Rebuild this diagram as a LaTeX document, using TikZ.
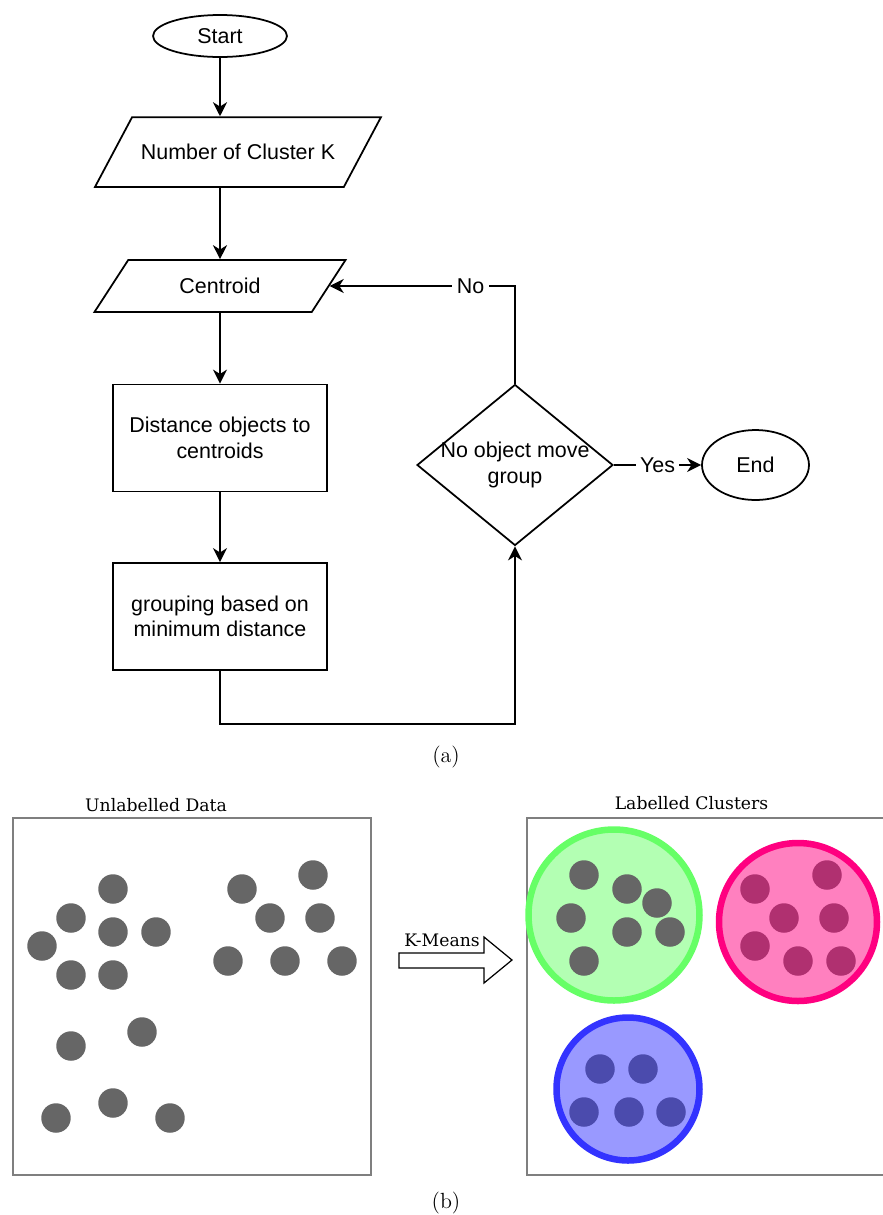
\documentclass[tikz,border=0pt]{standalone}
\usepackage{fontspec}
\usetikzlibrary{shapes.geometric,arrows.meta}
\newfontfamily\flowfont{Liberation Sans}
\newfontfamily\plotfont{DejaVu Serif}
\definecolor{dotgray}{HTML}{666666}
\definecolor{panelline}{HTML}{7F7F7F}
\definecolor{grfill}{HTML}{B3FFB3}
\definecolor{grline}{HTML}{66FF66}
\definecolor{pkfill}{HTML}{FF80BF}
\definecolor{pkline}{HTML}{FF0080}
\definecolor{pkdot}{HTML}{B03070}
\definecolor{blfill}{HTML}{9999FF}
\definecolor{blline}{HTML}{3333FF}
\definecolor{bldot}{HTML}{4B4BAD}
\tikzset{
  flow/.style={draw, line width=1pt, font=\flowfont\fontsize{12.2}{14.5}\selectfont,
               align=center, inner sep=0pt},
  terminal/.style={flow, ellipse},
  inout/.style={draw, line width=1pt, font=\flowfont\fontsize{12.2}{14.5}\selectfont,
                trapezium, trapezium stretches body=true, inner xsep=0pt,
                text height=10pt, text depth=2pt},
  process/.style={flow, rectangle, minimum width=4.28cm, minimum height=2.14cm},
  decision/.style={flow, diamond, minimum width=3.92cm, minimum height=3.22cm},
  link/.style={line width=1pt, -{Stealth[length=8pt, width=8pt, inset=2.5pt]}},
  edgelabel/.style={fill=white, font=\flowfont\fontsize{12.2}{14.5}\selectfont, inner sep=2.5pt},
  caption/.style={font=\fontsize{12.5}{15}\selectfont},
  paneltitle/.style={font=\plotfont\fontsize{9.8}{12}\selectfont, inner sep=0pt},
  panel/.style={draw=panelline, line width=0.7pt},
  dot/.style={circle, inner sep=0pt, minimum size=0.59cm},
  cluster/.style={line width=3.7pt},
}

\begin{document}
\begin{tikzpicture}[x=0.02cm, y=-0.02cm]
    \useasboundingbox (0,0) rectangle (883,1215);

    % (a) flowchart
    \node[terminal, minimum width=2.68cm, minimum height=0.84cm] (start) at (220,36) {Start};
    \node[inout, minimum width=5.72cm, inner ysep=13.85pt,
          trapezium left angle=62, trapezium right angle=118] (num) at (238,152) {Number of Cluster K};
    \node[inout, minimum width=5.02cm, inner ysep=8.75pt,
          trapezium left angle=57, trapezium right angle=123] (cen) at (220,286) {Centroid};
    \node[process] (dist) at (220,438) {Distance objects to\\centroids};
    \node[process] (grp) at (220,616.5) {grouping based on\\minimum distance};
    \node[decision, label={[flow, draw=none]center:No object move\\group}] (dec) at (515,465) {};
    \node[terminal, minimum width=2.14cm, minimum height=1.4cm] (fin) at (755.5,465) {End};

    \draw[link] (start.south) -- (start.south |- num.north);
    \draw[link] (start.south |- num.south) -- (cen.north);
    \draw[link] (cen) -- (dist);
    \draw[link] (dist) -- (grp);
    \draw[link] (grp.south) -- ++(0,53) -| (dec.south);
    \draw[link] (dec.north) |- (cen.east) node[edgelabel, pos=0.62] {No};
    \draw[link] (dec.east) -- (fin.west) node[edgelabel, midway] {Yes};

    \node[caption] (capa) at (446,757) {(a)};

    % (b) clustering
    \node[paneltitle] (rawtitle) at (156,805) {Unlabelled Data};
    \draw[panel] (13,818) rectangle (371,1175);
    \foreach \px/\py in {113/889, 71/918, 113/932, 156/932, 42/946, 71/975, 113/975,
                         242/889, 313/875, 270/918, 320/918, 228/961, 285/961, 342/961,
                         142/1032, 71/1046, 113/1103, 56/1118, 170/1118}
      \node[dot, fill=dotgray] at (\px,\py) {};

    \draw[line width=0.7pt, fill=white] (399,953) -- (484,953) -- (484,937) -- (512,960)
      -- (484,983) -- (484,968) -- (399,968) -- cycle;
    \node[paneltitle] (kmeans) at (442,940) {K-Means};

    \node[paneltitle] (clutitle) at (691.5,803) {Labelled Clusters};
    \draw[panel] (527,818) rectangle (900,1175);

    \draw[cluster, draw=grline, fill=grfill] (614,915) circle (85.5);
    \foreach \px/\py in {584/875, 627/889, 657/903, 571/918, 627/932, 670/932, 584/961}
      \node[dot, fill=dotgray] at (\px,\py) {};

    \draw[cluster, draw=pkline, fill=pkfill] (798,922) circle (79);
    \foreach \px/\py in {755/889, 827/875, 784/918, 834/918, 755/946, 798/961, 841/961}
      \node[dot, fill=pkdot] at (\px,\py) {};

    \draw[cluster, draw=blline, fill=blfill] (628,1089) circle (71.5);
    \foreach \px/\py in {600/1069, 643/1069, 584/1112, 629/1112, 671/1112}
      \node[dot, fill=bldot] at (\px,\py) {};

    \node[caption] (capb) at (446,1203) {(b)};
\end{tikzpicture}
\end{document}
